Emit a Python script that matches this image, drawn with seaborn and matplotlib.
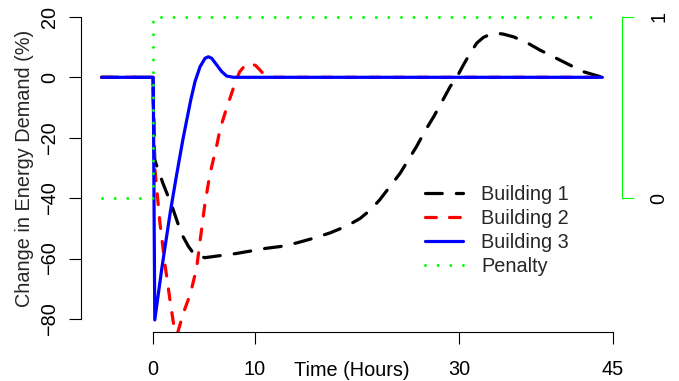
import matplotlib
matplotlib.use("Agg")
import matplotlib.pyplot as plt
import matplotlib.transforms as mtransforms
from matplotlib.lines import Line2D
import numpy as np
import pandas as pd
import seaborn as sns

# ---------------- data ----------------
time_b1 = [-5, 0, 0.2, 1.0, 1.9, 2.8, 3.5, 4.1, 5.1, 8.2, 11.1, 12.5, 14.1, 15.7,
           17.35, 19.0, 20.3, 21.3, 22.2, 23.2, 24.2, 25.0, 25.8, 26.6, 27.5, 28.3,
           29.1, 29.75, 30.4, 31.05, 31.7, 32.35, 33.0, 33.66, 34.3, 35.3, 36.6,
           37.9, 39.2, 40.5, 42.1, 44]
building1 = [0, 0, -27.4, -35.1, -42.8, -51.7, -56.0, -58.8, -59.7, -58.3, -56.6,
             -56.0, -54.8, -53.3, -51.5, -49.2, -46.7, -43.9, -40.6, -36.2, -31.8,
             -27.4, -23.0, -18.0, -13.0, -8.1, -3.1, 0, 4.1, 7.9, 11.3, 13.2, 14.2,
             14.6, 14.3, 13.4, 11.5, 9.0, 6.8, 4.6, 1.9, 0]

time_b2 = [-5, 0, 0.2, 0.7, 1.2, 1.7, 2.1, 2.4, 2.7, 3.0, 3.7, 4.3, 4.6, 5.1, 5.6,
           6.3, 6.6, 7.2, 7.7, 8.1, 8.5, 9.0, 9.6, 10.1, 10.5, 11.0, 11.5, 44]
building2 = [0, 0, -30, -48, -62, -74, -83, -85, -81.5, -78, -71.5, -63, -55, -42,
             -32, -22, -17, -10.5, -5.5, -1.5, 1.8, 3.8, 4.7, 3.8, 2.4, 0.5, 0, 0]

time_b3 = [-5, 0.05, 0.2, 0.9, 1.7, 2.3, 2.94, 3.33, 3.72, 4.14, 4.63, 5.12, 5.44,
           5.77, 6.26, 6.75, 7.24, 7.9, 44]
building3 = [0, 0, -80.3, -63.0, -45.0, -33.0, -20.8, -14.1, -7.5, -1.4, 3.5, 6.3,
             6.8, 6.3, 4.1, 1.9, 0.4, 0, 0]

time_pen = [-5, 0, 0, 44]
penalty = [0, 0, 1, 1]

x_ticks = [0, 10, 30, 45]
y_ticks = [-80, -60, -40, -20, 0, 20]
pen_ticks = [0, 1]
labels = ["Building 1", "Building 2", "Building 3", "Penalty"]
x_title = "Time (Hours)"
y_title = "Change in Energy Demand (%)"

# ---------------- style ----------------
sns.set_theme(style="white")
plt.rcParams["font.family"] = ["Liberation Sans", "DejaVu Sans"]
FS = 14.3
W, H = 679, 381
fig = plt.figure(figsize=(W / 100, H / 100), dpi=100)
left, right, bottom, top = 81.3, 622.0, 331.7, 4.8
ax = fig.add_axes([left / W, 1 - bottom / H, (right - left) / W, (bottom - top) / H])
ax.set_facecolor("none")

LW = 2.3
DASH_B1 = (0, (5.25, 4.4))
DASH_B2 = (0, (3.4, 4.1))
DOT_P = (0, (0.01, 4.2))
df1 = pd.DataFrame({"t": time_b1, "v": building1})
df2 = pd.DataFrame({"t": time_b2, "v": building2})
df3 = pd.DataFrame({"t": time_b3, "v": building3})
dfp = pd.DataFrame({"t": time_pen, "p": penalty})

sns.lineplot(data=df1, x="t", y="v", ax=ax, color="black", linewidth=LW,
             estimator=None, sort=False, linestyle=DASH_B1,
             dash_capstyle="round", dash_joinstyle="round")
sns.lineplot(data=df2, x="t", y="v", ax=ax, color="#FF0000", linewidth=LW,
             estimator=None, sort=False, linestyle=DASH_B2,
             dash_capstyle="round", dash_joinstyle="round")
sns.lineplot(data=df3, x="t", y="v", ax=ax, color="#0000FF", linewidth=LW,
             estimator=None, sort=False, solid_capstyle="round",
             solid_joinstyle="round")

ylo, yhi = -84.2, 24.0
ax.set_xlim(-6.99, 45.92)
ax.set_ylim(ylo, yhi)
ax.set_xticks(x_ticks)
ax.set_yticks(y_ticks)
ax.set_xticklabels([str(v) for v in x_ticks], fontsize=FS)
ax.set_yticklabels([str(v).replace("-", "\u2212") for v in y_ticks], fontsize=FS,
                   rotation=90, va="center")
ax.spines["top"].set_visible(False)
ax.spines["right"].set_visible(False)
for s in ["left", "bottom"]:
    ax.spines[s].set_color("black")
    ax.spines[s].set_linewidth(0.8)
ax.spines["left"].set_bounds(-80, 20)
ax.spines["bottom"].set_bounds(0, 45)
ax.tick_params(axis="both", which="major", length=8.6, width=0.8, color="black",
               direction="out", left=True, bottom=True, labelcolor="black")
ax.tick_params(axis="x", pad=11.6)
ax.tick_params(axis="y", pad=7.2)
ax.set_xlabel("")
ax.set_ylabel(y_title, fontsize=FS, labelpad=4.3)

# Time label in tick row
trans = mtransforms.blended_transform_factory(ax.transData, fig.transFigure)
ax.text(19.5, 1 - 376.5 / H, x_title, transform=trans, ha="center", va="baseline",
        fontsize=FS, color="black")

# ---------------- penalty on secondary axis ----------------
ax2 = ax.twinx()
ax2.set_facecolor("none")
sns.lineplot(data=dfp, x="t", y="p", ax=ax2, color="#00FF00", linewidth=2.16,
             estimator=None, sort=False, linestyle=DOT_P,
             dash_capstyle="round")
ax2.set_ylim((ylo + 40) / 60, (yhi + 40) / 60)
ax2.set_xlim(-6.99, 45.92)
for s in ["top", "left", "bottom"]:
    ax2.spines[s].set_visible(False)
ax2.spines["right"].set_color("#00FF00")
ax2.spines["right"].set_linewidth(0.8)
ax2.spines["right"].set_bounds(0, 1)
ax2.set_yticks(pen_ticks)
ax2.set_yticklabels([str(v) for v in pen_ticks], fontsize=FS, rotation=90, va="center")
ax2.tick_params(axis="y", right=True, length=8.6, width=0.8, color="#00FF00",
                direction="out", pad=11, labelcolor="black")
ax2.set_ylabel("")
ax2.set_xlabel("")

# ---------------- legend ----------------
handles = [
    Line2D([], [], color="black", linewidth=LW, linestyle=DASH_B1, dash_capstyle="round"),
    Line2D([], [], color="#FF0000", linewidth=LW, linestyle=DASH_B2, dash_capstyle="round"),
    Line2D([], [], color="#0000FF", linewidth=LW),
    Line2D([], [], color="#00FF00", linewidth=2.16, linestyle=DOT_P, dash_capstyle="round"),
]
leg = ax2.legend(handles, labels, loc="upper left",
                 bbox_to_anchor=(425 / W, 1 - 184.5 / H), bbox_transform=fig.transFigure,
                 frameon=False, fontsize=FS, handlelength=1.93, handletextpad=0.9,
                 labelspacing=0.26, borderpad=0, borderaxespad=0)

fig.savefig("out.png", dpi=100)
